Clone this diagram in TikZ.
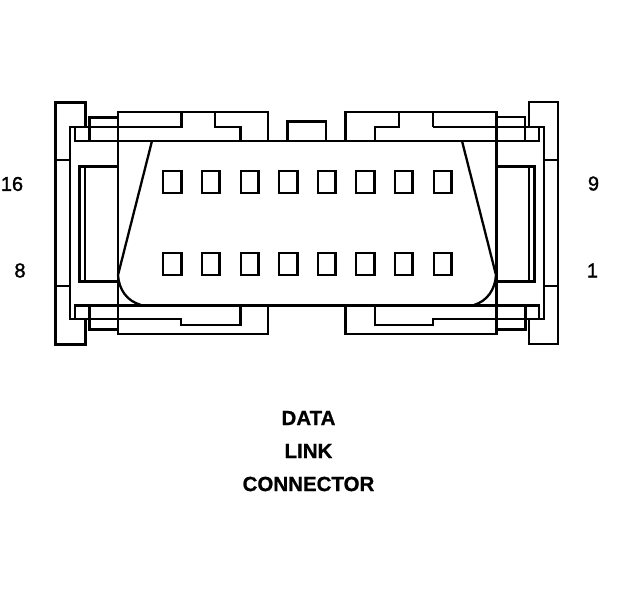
\documentclass[tikz,border=0pt]{standalone}
\usepackage{fontspec}
\setmainfont{Liberation Sans}
\newfontfamily\lblfont[FakeBold=1.5]{Liberation Sans}
\newfontfamily\ttlfont[FakeBold=0.8]{Liberation Sans Bold}
\tikzset{
  thin line/.style={line width=2.3pt,line cap=butt,line join=miter},
  thick line/.style={line width=3pt,line cap=butt,line join=miter},
  pin/.style={line width=2.6pt,line join=miter},
  curve line/.style={line width=2.3pt},
  pinlabel/.style={font=\lblfont\fontsize{20}{22}\selectfont,inner sep=0pt},
  title/.style={font=\ttlfont\fontsize{20.5}{22}\selectfont,inner sep=0pt}
}
\begin{document}
\begin{tikzpicture}[x=1pt,y=-1pt]
\useasboundingbox (0,0) rectangle (624,600);
\fill[white] (0,0) rectangle (624,600);
% end posts
\draw[thick line] (85,127) -- (85,102) -- (55.5,102) -- (55.5,344) -- (85,344) -- (85,319);
\draw[thin line] (55,160) -- (70,160) (55,286) -- (70,286);
\draw[thin line,line width=2.6pt] (529,127) -- (529,102) -- (558,102) -- (558,344) -- (529,344) -- (529,319);
\draw[thin line] (544,160) -- (558,160) (544,286) -- (558,286);
% frame
\draw[thin line] (181,127) -- (70,127) -- (70,319) -- (181,319);
\draw[thin line] (433,127) -- (544,127) -- (544,319) -- (433,319);
% upper shell
\draw[thin line] (268,141) -- (268,112) -- (118,112) -- (118,305);
\draw[thin line] (345,112) -- (496,112);
\draw[thick line] (181,111) -- (181,128);
\draw[thin line] (215,112) -- (215,127) -- (241,127);
\draw[thick line] (240,126) -- (240,141);
\draw[thick line] (345,141) -- (345,111);
\draw[thin line] (375,141) -- (375,127) -- (399,127) -- (399,112);
\draw[thin line] (433,112) -- (433,127);
\draw[thick line] (496,111) -- (496,335);
% side wings
\draw[thick line] (89,141) -- (89,117) -- (118,117);
\draw[thin line] (496,117) -- (525,117) -- (525,141);
\draw[thick line] (89,305) -- (89,329) -- (118,329);
\draw[thick line] (496,329) -- (525,329) -- (525,305);
% main bars
\draw[thin line] (75,141) -- (75,127);
\draw[thin line] (74,141) -- (539,141) -- (539,127);
\draw[thin line] (75,305) -- (75,319);
\draw[thick line] (74,305) -- (540,305);
\draw[thin line] (539,305) -- (539,319);
% centre tab
\draw[thick line] (287,141) -- (287,121) -- (327,121);
\draw[thin line] (326,120) -- (326,141);
% side windows
\draw[thick line] (118,166) -- (79,166) -- (79,281) -- (118,281);
\draw[thin line] (85,166) -- (85,281);
\draw[thick line] (496,166) -- (534,166) -- (534,281) -- (496,281);
\draw[thin line] (529,166) -- (529,281);
% lower shell
\draw[thin line] (118,305) -- (118,334) -- (268,334) -- (268,305);
\draw[thin line] (181,318) -- (181,325) -- (240,325);
\draw[thick line] (240,326) -- (240,305);
\draw[thick line] (345,305) -- (345,335);
\draw[thin line] (345,334) -- (496,334);
\draw[thin line] (375,305) -- (375,325) -- (433,325) -- (433,318);
% plug outline
\draw[curve line] (152,141) -- (118,275) .. controls (119,290) and (127,301) .. (141,305);
\draw[curve line] (462,141) -- (496,275) .. controls (495,290) and (487,301) .. (474,305);
% pins
\foreach \px/\pw in {162/20,201/19,240/19,278/20,317/19,355/20,394/19,433/19}{
  \draw[pin] (\px+0.8,171) rectangle (\px+\pw-0.3,193);
  \draw[pin] (\px+0.8,253) rectangle (\px+\pw-0.3,275);
}
% labels
\node[pinlabel] (l16) at (12,184) {16};
\node[pinlabel] (l8) at (20,270.5) {8};
\node[pinlabel] (l9) at (593.5,183.5) {9};
\node[pinlabel] (l1) at (592.5,270.5) {1};
\node[title] (t1) at (308.5,418) {DATA};
\node[title] (t2) at (308.5,451) {LINK};
\node[title] (t3) at (308.5,484) {CONNECTOR};
\end{tikzpicture}
\end{document}
